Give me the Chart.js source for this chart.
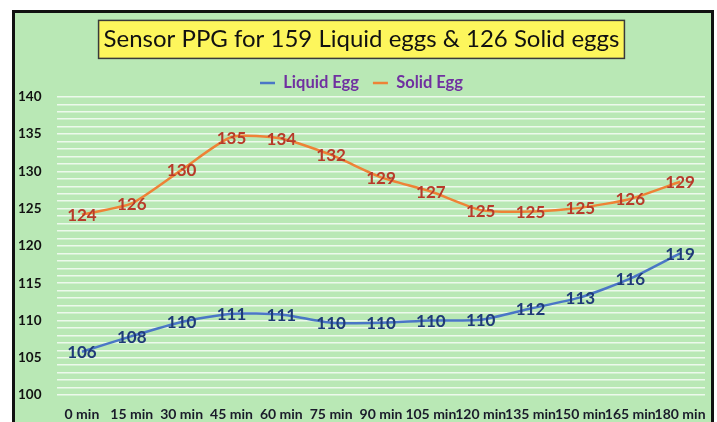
<!DOCTYPE html>
<html>
<head>
<meta charset="utf-8">
<script src="https://cdn.jsdelivr.net/npm/chart.js@4.4.0/dist/chart.umd.min.js"></script>
<style>
  html, body { margin: 0; padding: 0; background: #fff; }
</style>
</head>
<body>
<canvas id="ppg" width="717" height="422"></canvas>
<script>
// time points
const timeLabels = ['0 min', '15 min', '30 min', '45 min', '60 min', '75 min', '90 min',
    '105 min', '120 min', '135 min', '150 min', '165 min', '180 min'];
// mean PPG values
const liquidEgg = [105.8, 107.9, 109.8, 110.9, 110.8, 109.7, 109.7, 110.0, 110.1, 111.6, 113.1, 115.6, 119.0];
const solidEgg = [124.2, 125.7, 130.2, 134.6, 134.4, 132.2, 129.2, 127.3, 124.8, 124.6, 125.1, 126.3, 128.6];
const yTickLabels = [100, 105, 110, 115, 120, 125, 130, 135, 140];

const FONT = 'Lato, "Open Sans", sans-serif';
const titleText = 'Sensor PPG for 159 Liquid eggs & 126 Solid eggs';

// green panel + black frame + yellow title box
const frame = {
    id: 'frame',
    beforeDraw(chart) {
        const ctx = chart.ctx;
        ctx.save();
        ctx.fillStyle = '#ffffff';
        ctx.fillRect(0, 0, chart.width, chart.height);
        ctx.fillStyle = '#b9e8b5';
        ctx.fillRect(14, 12, 698, chart.height - 12);
        ctx.fillStyle = '#111';
        ctx.fillRect(12, 10, 3, chart.height - 10);
        ctx.fillRect(12, 10, 702, 3);
        ctx.fillRect(711, 10, 3, chart.height - 10);

        // title box
        const tb = chart.titleBlock;
        ctx.font = '24px ' + FONT;
        const w = ctx.measureText(titleText).width + 10;
        const cx = tb.left + tb.width / 2;
        const cy = tb.top + tb.options.padding.top + 14.4;
        ctx.fillStyle = '#fdf65c';
        ctx.fillRect(cx - w / 2, cy - 19, w, 38);
        ctx.strokeStyle = '#3a3a3a';
        ctx.lineWidth = 1.5;
        ctx.strokeRect(cx - w / 2, cy - 19, w, 38);
        ctx.restore();
    }
};

// rounded value written on each point
const pointValues = {
    id: 'pointValues',
    afterDatasetsDraw(chart) {
        const ctx = chart.ctx;
        ctx.save();
        ctx.font = 'bold 17px ' + FONT;
        ctx.textAlign = 'center';
        ctx.textBaseline = 'middle';
        chart.data.datasets.forEach((ds, i) => {
            const meta = chart.getDatasetMeta(i);
            ctx.fillStyle = ds.valueColor;
            meta.data.forEach((pt, j) => {
                ctx.fillText(Math.round(ds.data[j]), pt.x, pt.y + 1);
            });
        });
        ctx.restore();
    }
};

new Chart(document.getElementById('ppg'), {
    type: 'line',
    data: {
        labels: timeLabels,
        datasets: [
            {
                label: 'Liquid Egg',
                data: liquidEgg,
                borderColor: '#4a76c6',
                backgroundColor: '#4a76c6',
                valueColor: '#1f3a78',
                borderWidth: 2.5,
                pointRadius: 0,
                tension: 0.2,
            },
            {
                label: 'Solid Egg',
                data: solidEgg,
                borderColor: '#ee8236',
                backgroundColor: '#ee8236',
                valueColor: '#b83a2a',
                borderWidth: 2.5,
                pointRadius: 0,
                tension: 0.2,
            }
        ]
    },
    options: {
        responsive: false,
        animation: false,
        layout: { padding: { top: 10, left: 18, right: 12, bottom: 0 } },
        plugins: {
            title: {
                display: true,
                text: titleText,
                color: '#111',
                font: { family: FONT, size: 24, weight: 'normal' },
                padding: { top: 15, bottom: 7 },
            },
            legend: {
                maxHeight: 36,
                labels: {
                    usePointStyle: true,
                    pointStyle: 'line',
                    pointStyleWidth: 15,
                    color: '#7030a0',
                    font: { family: FONT, size: 16.5, weight: 'bold', lineHeight: 1 },
                    padding: 14,
                }
            },
            tooltip: { enabled: false },
        },
        scales: {
            x: {
                offset: true,
                afterFit(scale) { scale.height = 27; },
                grid: { display: false },
                border: { display: false },
                ticks: {
                    autoSkip: false,
                    maxRotation: 0,
                    color: '#1a1a2a',
                    font: { family: FONT, size: 14, weight: 'bold' },
                    padding: 3,
                }
            },
            y: {
                min: 100,
                max: 140,
                afterFit(scale) { scale.width = 39; },
                grid: { color: 'rgba(255,255,255,0.75)', lineWidth: 1.5, drawTicks: false },
                border: { display: false },
                ticks: {
                    stepSize: 1,
                    autoSkip: false,
                    crossAlign: 'far',
                    color: '#111',
                    font: { family: FONT, size: 13.5, weight: 'bold' },
                    callback: v => yTickLabels.includes(v) ? v : '',
                }
            }
        }
    },
    plugins: [frame, pointValues]
});
</script>
</body>
</html>
